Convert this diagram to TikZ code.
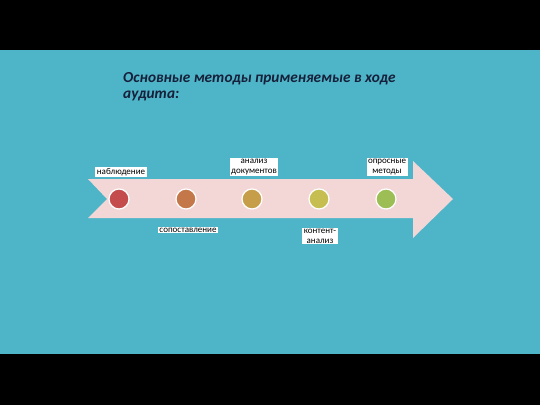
\documentclass[tikz,border=0pt]{standalone}
\usepackage{fontspec}
\setmainfont{Carlito}
\usepackage{tikz}
\usetikzlibrary{arrows}
\usetikzlibrary{shapes}

\definecolor{sea}{RGB}{78,181,200}
\definecolor{blush}{RGB}{242,215,214}
\definecolor{ink}{RGB}{22,32,58}
\definecolor{dotA}{RGB}{196,76,76}
\definecolor{dotB}{RGB}{196,120,74}
\definecolor{dotC}{RGB}{198,158,74}
\definecolor{dotD}{RGB}{198,190,80}
\definecolor{dotE}{RGB}{156,190,84}

\begin{document}
\begin{tikzpicture}[x=1pt, y=-1pt]
                \tikzstyle{dot} = [circle, draw=white, line width=1.2pt, minimum size=20pt, inner sep=0pt]
                \tikzstyle{tag} = [fill=white, inner xsep=1.5pt, inner ysep=1pt, font=\fontsize{9}{10}\selectfont, align=center, text=black]
                        \useasboundingbox (0,0) rectangle (540,405);
                        % backdrop
                        \fill[black] (0,0) rectangle (540,405);
                        \fill[sea] (0,50) rectangle (540,354);

                        % title
                        \node[anchor=north west, text=ink, align=left, inner sep=0pt,
                              font=\fontsize{15.3}{16.5}\selectfont\bfseries\itshape] (title) at (123,72)
                              {Основные методы применяемые в ходе\\аудита:};

                        % arrow
                        \fill[blush] (88,179) -- (413,179) -- (413,161) -- (453,199)
                              -- (413,238) -- (413,218) -- (88,218) -- (107,199) -- cycle;

                        \begin{scope}
                                \path
                                node[dot, fill=dotA] (A) at (119,199) {}
                                node[dot, fill=dotB] (B) at (186,199) {}
                                node[dot, fill=dotC] (C) at (252,199) {}
                                node[dot, fill=dotD] (D) at (319,199) {}
                                node[dot, fill=dotE] (E) at (386,199) {}

                                % labels
                                node[tag] (tA) at (121,172) {наблюдение}
                                node[tag] (tB) at (188,230) {сопоставление}
                                node[tag] (tC) at (254,167) {анализ\\документов}
                                node[tag] (tD) at (320,236) {контент-\\анализ}
                                node[tag] (tE) at (387,167) {опросные\\методы}
                                ;
                        \end{scope}
\end{tikzpicture}
\end{document}
